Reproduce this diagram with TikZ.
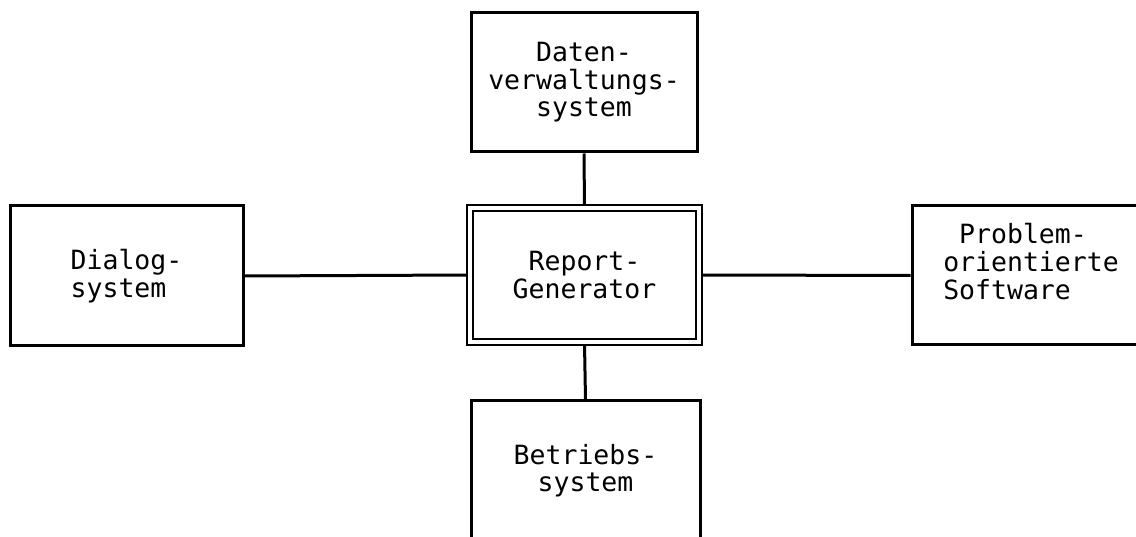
\documentclass[tikz,border=0pt]{standalone}
\usepackage{fontspec}
\setmonofont{DejaVu Sans Mono}
\usetikzlibrary{backgrounds}
\begin{document}
\begin{tikzpicture}[x=1pt,y=-1pt,
  box/.style={draw, line width=3pt, fill=white, inner sep=0pt,
    font=\ttfamily\fontsize{26.5}{27.5}\selectfont},
  mainbox/.style={box, double, line width=2.5pt, double distance=3.5pt},
  link/.style={line width=3pt}]
\useasboundingbox (0,0) rectangle (1136,537);
\clip (0,0) rectangle (1136,537);
\node[box, align=center, minimum width=226pt, minimum height=139pt] (dv) at (584,82.5)
  {Daten-\\verwaltungs-\\system};
\node[mainbox, align=center, minimum width=229pt, minimum height=134pt] (rg) at (584.5,275)
  {Report-\\Generator};
\node[box, align=left, minimum width=233pt, minimum height=140pt] (dl) at (126.5,276)
  {Dialog-\\system};
\node[box, minimum width=238pt, minimum height=139pt] (po) at (1031,275.5)
  {\raisebox{10pt}[\height][\depth]{\begin{tabular}{@{}l@{}}\phantom{o}Problem-\\orientierte\\Software\end{tabular}}};
\node[box, align=center, minimum width=229pt, minimum height=139pt] (bs) at (585.5,470.5)
  {Betriebs-\\system};
\begin{pgfonlayer}{background}
\draw[link] (dv.south) -- (rg.north);
\draw[link] (rg.south) -- (bs.north);
\draw[link] (dl.east) -- (rg.west);
\draw[link] (rg.east) -- (po.west);
\end{pgfonlayer}
\end{tikzpicture}
\end{document}
